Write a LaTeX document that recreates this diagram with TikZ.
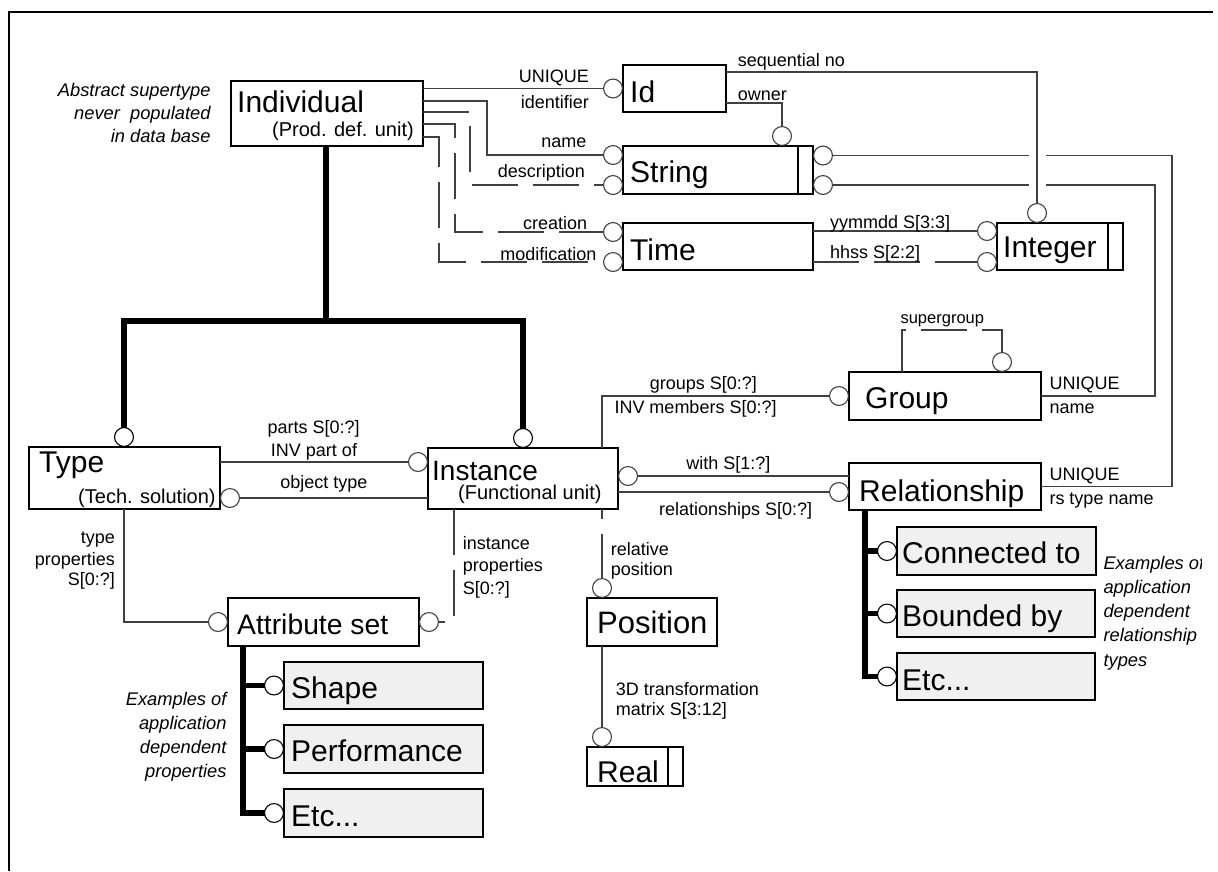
\documentclass[tikz,border=0pt]{standalone}
\usepackage{fontspec}
\setmainfont{Liberation Sans}
\usetikzlibrary{arrows.meta,calc}
\newcommand\fBig{\fontsize{30}{36}\selectfont}
\newcommand\fSub{\fontsize{20}{24}\selectfont}
\newcommand\fLab{\fontsize{18}{22}\selectfont}
\newcommand\fSm{\fontsize{16.5}{20}\selectfont}
\newcommand\fNote{\fontsize{18.3}{23}\selectfont\itshape}
\begin{document}
\begin{tikzpicture}[x=1pt,y=-1pt,
  ent/.style={draw=black, line width=1.4pt, fill=white, inner sep=0pt, outer sep=0pt, anchor=north west},
  subent/.style={ent, fill=black!6},
  ttl/.style={anchor=base west, inner sep=0pt, font=\fBig},
  stl/.style={anchor=base west, inner sep=0pt, font=\fSub},
  lab/.style={inner sep=0pt, font=\fLab},
  note/.style={inner sep=0pt, font=\fNote},
  conn/.style={draw=black!75, line width=1.1pt},
  opt/.style={conn, dash pattern=on 46pt off 15pt},
  ringend/.style={-{Circle[open, length=20pt, width=20pt, line width=1.1pt]}},
  isa/.style={line width=5.5pt, draw=black},
]
\useasboundingbox (0,0) rectangle (1218,871);
% outer frame (top and left edges)
\draw[line width=2.5pt] (9,871) -- (9,12) -- (1213,12);

% ---------------- entities ----------------
\node[ent, minimum width=192pt, minimum height=65pt] (indiv) at (231,81) {};
\node[ent, minimum width=103pt, minimum height=47pt] (id) at (623,65) {};
\node[ent, minimum width=190pt, minimum height=48pt] (string) at (623,146) {};
\node[ent, minimum width=190pt, minimum height=47pt] (time) at (623,223) {};
\node[ent, minimum width=126pt, minimum height=47pt] (integer) at (997,223) {};
\node[ent, minimum width=191pt, minimum height=62pt] (type) at (29,447) {};
\node[ent, minimum width=190pt, minimum height=61pt] (inst) at (428,448) {};
\node[ent, minimum width=192pt, minimum height=48pt] (group) at (849,372) {};
\node[ent, minimum width=192pt, minimum height=47pt] (rel) at (849,463) {};
\node[ent, minimum width=191pt, minimum height=48pt] (attr) at (228,598) {};
\node[ent, minimum width=130pt, minimum height=48pt] (pos) at (587,598) {};
\node[ent, minimum width=96pt, minimum height=39pt] (real) at (587,747) {};
\node[subent, minimum width=199pt, minimum height=47pt] (shape) at (284,662) {};
\node[subent, minimum width=199pt, minimum height=48pt] (perf) at (284,725) {};
\node[subent, minimum width=199pt, minimum height=48pt] (etcA) at (284,789) {};
\node[subent, minimum width=199pt, minimum height=48pt] (cnct) at (897,527) {};
\node[subent, minimum width=198pt, minimum height=47pt] (bound) at (897,590) {};
\node[subent, minimum width=198pt, minimum height=47pt] (etcR) at (897,653) {};

% simple types carry an extra bar on the right
\foreach \e in {string,integer,real}
  \draw[line width=1.4pt] ($(\e.north east)+(-15,0)$) -- ($(\e.south east)+(-15,0)$);

% ---------------- helper points ----------------
\coordinate (e2) at ($(indiv.north east)+(0,20)$);
\coordinate (e3) at ($(indiv.north east)+(0,31)$);
\coordinate (e4) at ($(indiv.north east)+(0,43)$);
\coordinate (e5) at ($(indiv.north east)+(0,56)$);
\coordinate (sN) at ($(string.north west)+(0,9)$);
\coordinate (sD) at ($(string.south west)+(0,-9)$);
\coordinate (sNe) at ($(string.north east)+(0,9.5)$);
\coordinate (sDe) at ($(string.south east)+(0,-9)$);
\coordinate (tC) at ($(time.north west)+(0,9)$);
\coordinate (tM) at ($(time.south west)+(0,-8)$);
\coordinate (iA) at ($(integer.north west)+(0,8)$);
\coordinate (iB) at ($(integer.south west)+(0,-8)$);
\coordinate (nP) at ($(inst.north west)+(0,14)$);
\coordinate (tO) at ($(type.south east)+(0,-11)$);
\coordinate (rW) at ($(rel.north west)+(0,13)$);
\coordinate (rR) at ($(rel.south west)+(0,-18)$);

% ---------------- attributes ----------------
\draw[conn, ringend] (indiv.east |- id.west) -- (id.west);
\draw[conn, ringend] (e2) -- ++(64,0) |- (sN);
\draw[opt, ringend] (e3) -- ++(47,0) |- (sD);
\draw[opt, ringend] (e4) -- ++(32,0) |- (tC);
\draw[opt, ringend] (e5) -- ++(16,0) |- (tM);
\draw[conn, ringend] ($(id.south east)+(0,-9)$) -| ($(string.north west)+(159,0)$);
\draw[conn, ringend] (time.east |- iA) -- (iA);
\draw[opt, ringend] (time.east |- iB) -- (iB);
\draw[conn, ringend] (group.east) -- ++(114,0) |- (sDe);
\draw[conn, ringend] (rel.east) -- ++(131,0) |- (sNe);
% gap where the two string references pass the sequential number link
\draw[white, line width=17pt] ($(integer.north west)+(40,-80)$) -- ($(integer.north west)+(40,-30)$);
\draw[conn, ringend] ($(id.north east)+(0,7)$) -| ($(integer.north west)+(40,0)$);

\draw[conn, ringend] (type.east |- nP) -- (nP);
\draw[conn, ringend] (inst.west |- tO) -- (tO);
\draw[conn, ringend] ($(type.south west)+(95,0)$) |- (attr.west);
\draw[opt, ringend] ($(inst.south west)+(26,0)$) |- (attr.east);
\draw[conn, ringend] ($(inst.north west)+(174,0)$) |- (group.west);
\draw[opt, dash phase=36pt, ringend] ($(inst.south west)+(174,0)$) -- ($(pos.north west)+(15,0)$);
\draw[conn, ringend] ($(pos.south west)+(15,0)$) -- ($(real.north west)+(15,0)$);
\draw[conn, ringend] (rW) -- (inst.east |- rW);
\draw[conn, ringend] (inst.east |- rR) -- (rR);
\draw[opt, ringend] ($(group.north west)+(53,0)$) -- ++(0,-42) -| ($(group.north west)+(153,0)$);

% ---------------- subtype trees ----------------
\coordinate (iS) at ($(indiv.south west)+(95,0)$);
\coordinate (bus) at ($(iS)+(0,175)$);
\draw[isa] (iS) -- (bus);
\draw[isa, ringend] (bus) -| ($(type.north west)+(95,0)$);
\draw[isa, ringend] (bus) -| ($(inst.north west)+(95,0)$);
\coordinate (aS) at ($(attr.south west)+(15,0)$);
\draw[isa, ringend] (aS) |- (etcA.west);
\draw[isa, ringend] (aS |- shape.west) -- (shape.west);
\draw[isa, ringend] (aS |- perf.west) -- (perf.west);
\coordinate (rS) at ($(rel.south west)+(16,0)$);
\draw[isa, ringend] (rS) |- (etcR.west);
\draw[isa, ringend] (rS |- cnct.west) -- (cnct.west);
\draw[isa, ringend] (rS |- bound.west) -- (bound.west);

% ---------------- entity names ----------------
\node[ttl] (tIndiv) at (237,112) {Individual};
\node[stl] (sIndiv) at (272,136) {(Prod. def. unit)};
\node[ttl] (tId) at (630,102) {Id};
\node[ttl] (tString) at (630,182) {String};
\node[ttl] (tTime) at (630,260) {Time};
\node[ttl] (tInteger) at (1003,257) {Integer};
\node[ttl] (tType) at (39,472) {Type};
\node[stl] (sType) at (78,503) {(Tech. solution)};
\node[ttl, font=\fontsize{28}{34}\selectfont] (tInst) at (432,480) {Instance};
\node[stl] (sInst) at (458,499) {(Functional unit)};
\node[ttl] (tGroup) at (865,408) {Group};
\node[ttl] (tRel) at (859,501) {Relationship};
\node[ttl, font=\fontsize{28.3}{34}\selectfont] (tAttr) at (237,634) {Attribute set};
\node[ttl] (tShape) at (291,698) {Shape};
\node[ttl] (tPerf) at (291,761) {Performance};
\node[ttl] (tEtcA) at (291,826) {Etc...};
\node[ttl] (tCnct) at (902,563) {Connected to};
\node[ttl] (tBound) at (902,626) {Bounded by};
\node[ttl] (tEtcR) at (902,690) {Etc...};
\node[ttl, font=\fontsize{31}{37}\selectfont] (tPos) at (597,633) {Position};
\node[ttl] (tReal) at (597,782) {Real};

% ---------------- attribute labels ----------------
\node[lab, anchor=base east] (l1) at (589,82.7) {UNIQUE};
\node[lab, anchor=base east] (l2) at (589,108) {identifier};
\node[lab, anchor=base east] (l3) at (586.7,147.3) {name};
\node[lab, anchor=base east] (l4) at (585,177) {description};
\node[lab, anchor=base east] (l5) at (587.3,229) {creation};
\node[lab, anchor=base east] (l6) at (596.7,260.7) {modification};
\node[lab, anchor=base west] (l7) at (737.7,100) {owner};
\node[lab, anchor=base west] (l8) at (737.7,66.7) {sequential no};
\node[lab, anchor=base west] (l9) at (830,228.3) {yymmdd S[3:3]};
\node[lab, anchor=base west] (l10) at (830,258.3) {hhss S[2:2]};
\node[inner sep=0pt, font=\fSm, anchor=base] (l11) at (942.3,323.3) {supergroup};
\node[lab, anchor=base west] (l12) at (1049.3,389.3) {UNIQUE};
\node[lab, anchor=base west] (l13) at (1049.3,413.3) {name};
\node[lab, anchor=base west] (l14) at (1049.3,480) {UNIQUE};
\node[lab, anchor=base west] (l15) at (1049.3,504) {rs type name};
\node[lab, anchor=base] (l16) at (313.7,433.3) {parts S[0:?]};
\node[lab, anchor=base] (l17) at (314,456) {INV part of};
\node[lab, anchor=base] (l18) at (324,488.3) {object type};
\node[lab, anchor=base east] (l19) at (115,543.3) {type};
\node[lab, anchor=base east] (l20) at (115,565) {properties};
\node[lab, anchor=base east] (l21) at (115,585) {S[0:?]};
\node[lab, anchor=base west] (l22) at (462.7,549) {instance};
\node[lab, anchor=base west] (l23) at (462.7,571.7) {properties};
\node[lab, anchor=base west] (l24) at (462.7,594) {S[0:?]};
\node[lab, anchor=base] (l25) at (703.3,389.3) {groups S[0:?]};
\node[lab, anchor=base west] (l26) at (614.3,413.3) {INV members S[0:?]};
\node[lab, anchor=base] (l27) at (728.3,469.3) {with S[1:?]};
\node[lab, anchor=base] (l28) at (735.7,515) {relationships S[0:?]};
\node[lab, anchor=base west] (l29) at (610.7,555) {relative};
\node[lab, anchor=base west] (l30) at (610.7,575.5) {position};
\node[lab, anchor=base west] (l31) at (615.7,695) {3D transformation};
\node[lab, anchor=base west] (l32) at (615.7,715) {matrix S[3:12]};

% ---------------- notes ----------------
\node[note, anchor=base east] (n1) at (210.7,96) {Abstract supertype};
\node[note, anchor=base east] (n2) at (210.7,119.3) {never\ \ populated};
\node[note, anchor=base east] (n3) at (210.7,142.7) {in data base};
\node[note, anchor=base east] (n4) at (226.7,705) {Examples of};
\node[note, anchor=base east] (n5) at (226.7,729) {application};
\node[note, anchor=base east] (n6) at (226.7,753) {dependent};
\node[note, anchor=base east] (n7) at (226.7,777) {properties};
\begin{scope}
  \clip (1090,540) rectangle (1201,680);
  \node[note, anchor=base west] (n8) at (1103.3,569.3) {Examples of};
  \node[note, anchor=base west] (n9) at (1103.3,593.5) {application};
  \node[note, anchor=base west] (n10) at (1103.3,617.7) {dependent};
  \node[note, anchor=base west] (n11) at (1103.3,641.9) {relationship};
  \node[note, anchor=base west] (n12) at (1103.3,666) {types};
\end{scope}
\end{tikzpicture}
\end{document}
